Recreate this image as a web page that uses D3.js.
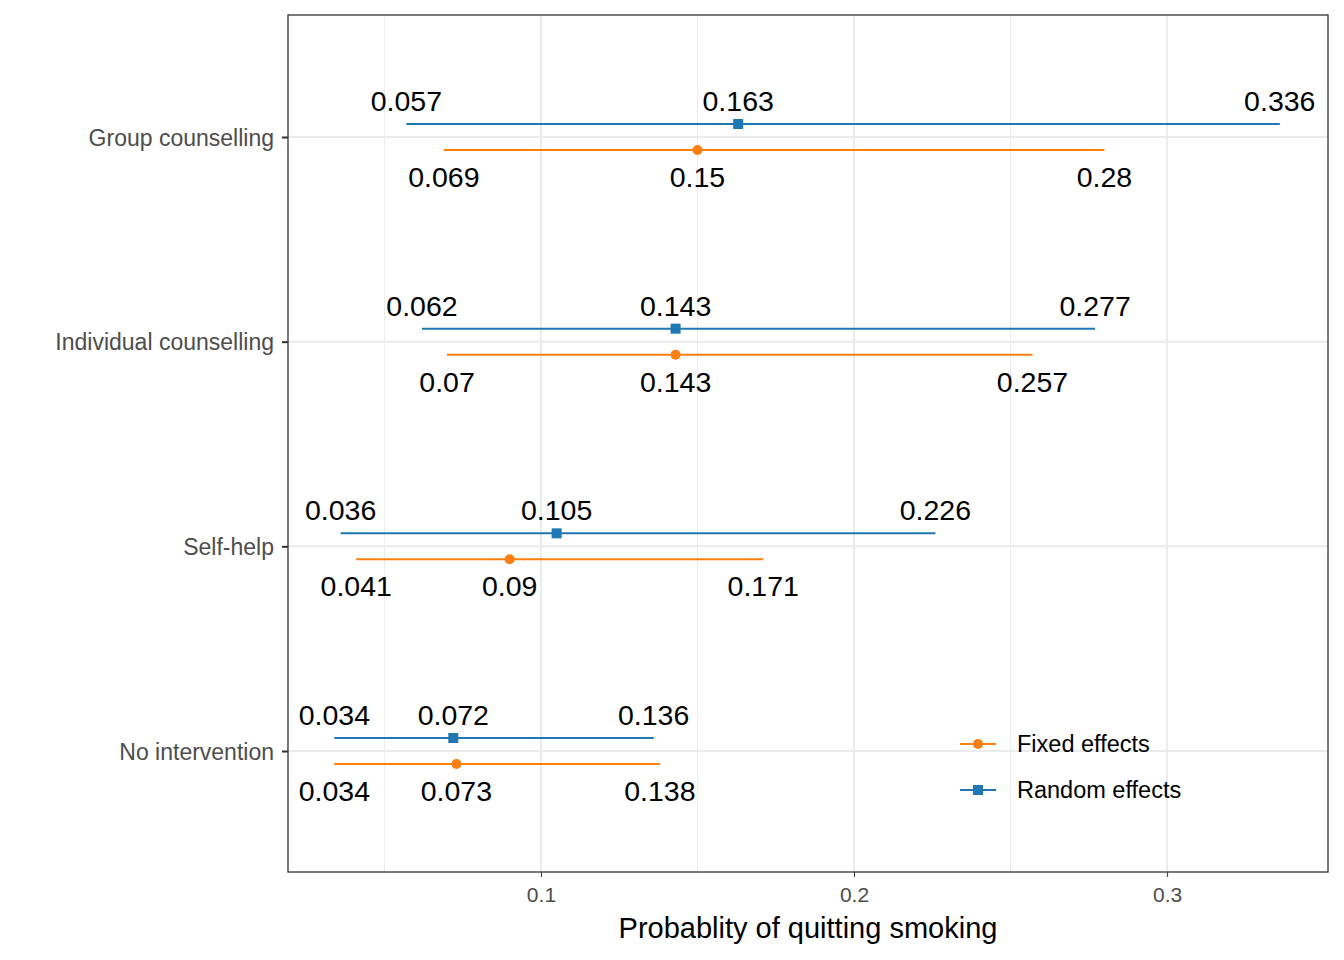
<!DOCTYPE html>
<html><head><meta charset="utf-8">
<script src="https://cdn.jsdelivr.net/npm/d3@7"></script>
<style>body{margin:0;background:#fff}text{font-family:"Liberation Sans",Arial,sans-serif}</style>
</head><body><svg id="c" width="1344" height="960"></svg>
<script>
const categories=["Group counselling","Individual counselling","Self-help","No intervention"];
const fixedEst=[0.15,0.143,0.09,0.073];
const fixedLo=[0.069,0.07,0.041,0.034];
const fixedHi=[0.28,0.257,0.171,0.138];
const randEst=[0.163,0.143,0.105,0.072];
const randLo=[0.057,0.062,0.036,0.034];
const randHi=[0.336,0.277,0.226,0.136];
const xTicks=[0.1,0.2,0.3];
const minorTicks=[0.05,0.15,0.25];

const svg=d3.select("#c");
const L=288,R=1328,T=15,B=872;
const x=d3.scaleLinear().domain([0.0192,0.3514]).range([L,R]);
const y=d3.scalePoint().domain(categories).range([137,751]);
const ORANGE="#ff7f0e",BLUE="#1f77b4";
const g=svg.append("g");
g.selectAll(".mn").data(minorTicks).join("line").attr("x1",d=>x(d)).attr("x2",d=>x(d)).attr("y1",T).attr("y2",B).attr("stroke","#ebebeb").attr("stroke-width",1);
g.selectAll(".mj").data(xTicks).join("line").attr("x1",d=>x(d)).attr("x2",d=>x(d)).attr("y1",T).attr("y2",B).attr("stroke","#ebebeb").attr("stroke-width",2);
g.selectAll(".hy").data(categories).join("line").attr("x1",L).attr("x2",R).attr("y1",d=>y(d)).attr("y2",d=>y(d)).attr("stroke","#ebebeb").attr("stroke-width",2);

function series(est,lo,hi,off,color,shape,labOff){
  const s=svg.append("g");
  categories.forEach((c,i)=>{
    const yy=y(c)+off;
    s.append("line").attr("x1",x(lo[i])).attr("x2",x(hi[i])).attr("y1",yy).attr("y2",yy).attr("stroke",color).attr("stroke-width",2);
    if(shape==="sq") s.append("rect").attr("x",x(est[i])-5).attr("y",yy-5).attr("width",10).attr("height",10).attr("fill",color);
    else s.append("circle").attr("cx",x(est[i])).attr("cy",yy).attr("r",5).attr("fill",color);
    [lo[i],est[i],hi[i]].forEach(v=>{
      s.append("text").attr("x",x(v)).attr("y",yy+labOff).attr("text-anchor","middle").attr("font-size",28.5).attr("fill","#000").text(String(v));
    });
  });
}
series(randEst,randLo,randHi,-13,BLUE,"sq",-13);
series(fixedEst,fixedLo,fixedHi,13,ORANGE,"ci",37);

svg.append("rect").attr("x",L).attr("y",T).attr("width",R-L).attr("height",B-T).attr("fill","none").attr("stroke","#333").attr("stroke-width",1.3);

const xa=svg.append("g").attr("transform",`translate(0,${B})`).call(d3.axisBottom(x).tickValues(xTicks).tickSize(5).tickFormat(d=>String(d)));
xa.select(".domain").remove();
xa.selectAll("line").attr("stroke","#333");
xa.selectAll("text").attr("font-size",21).attr("fill","#4d4d4d").attr("dy","1.05em");
const ya=svg.append("g").attr("transform",`translate(${L},0)`).call(d3.axisLeft(y).tickSize(6));
ya.select(".domain").remove();
ya.selectAll("line").attr("stroke","#333").attr("stroke-width",2);
ya.selectAll("text").attr("font-size",23).attr("fill","#4d4d4d").attr("dx","-5").attr("dy","0.35em");

svg.append("text").attr("x",(L+R)/2).attr("y",938).attr("text-anchor","middle").attr("font-size",29).text("Probablity of quitting smoking");

const leg=[["Fixed effects",ORANGE,"ci",744],["Random effects",BLUE,"sq",790]];
leg.forEach(([t,c,sh,yy])=>{
  svg.append("line").attr("x1",960).attr("x2",996).attr("y1",yy).attr("y2",yy).attr("stroke",c).attr("stroke-width",2);
  if(sh==="sq") svg.append("rect").attr("x",973).attr("y",yy-5).attr("width",10).attr("height",10).attr("fill",c);
  else svg.append("circle").attr("cx",978).attr("cy",yy).attr("r",5).attr("fill",c);
  svg.append("text").attr("x",1017).attr("y",yy+8).attr("font-size",23.5).text(t);
});
</script></body></html>
